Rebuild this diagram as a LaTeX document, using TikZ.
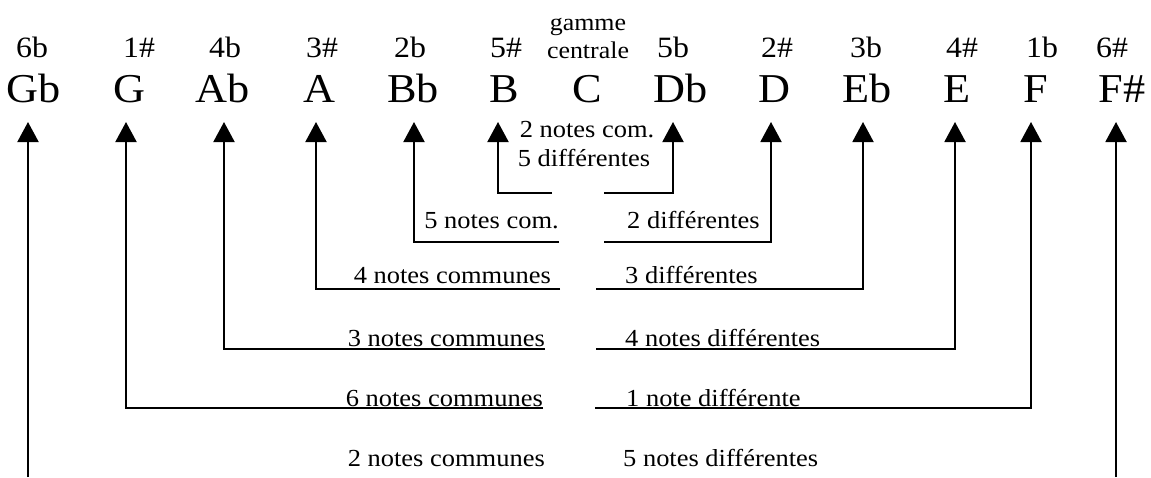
\documentclass[tikz,border=0pt]{standalone}
\usepackage{fontspec}
\setmainfont[FakeStretch=1.08]{Liberation Serif}
\usetikzlibrary{arrows.meta}
\begin{document}
\begin{tikzpicture}[x=1pt,y=-1pt,
  big/.style={font=\fontsize{41}{41}\selectfont, anchor=base, inner sep=0pt},
  key/.style={font=\fontsize{29.5}{29.5}\selectfont, anchor=base, inner sep=0pt},
  desc/.style={font=\fontsize{24.5}{24.5}\selectfont, inner sep=0pt},
  small/.style={font=\fontsize{24}{24}\selectfont, anchor=base, inner sep=0pt},
  arr/.style={line width=2pt, -{Triangle[width=21pt,length=20pt]}}]
\useasboundingbox (0,0) rectangle (1151,477);
% note names
\foreach \n/\t/\x in {Gb/Gb/34, G/G/129, Ab/Ab/223, A/A/319, Bb/Bb/413, B/B/504, C/C/587, Db/Db/681, D/D/774, Eb/Eb/867, E/E/957, F/F/1036, Fs/F\#/1122}
  \node[big] (n\n) at (\x,102) {\t};
% key signatures
\foreach \n/\t/\x in {Gb/6b/32, G/1\#/139, Ab/4b/225, A/3\#/322, Bb/2b/410, B/5\#/506, Db/5b/673, D/2\#/777, Eb/3b/866, E/4\#/962, F/1b/1042, Fs/6\#/1112}
  \node[key] (k\n) at (\x,57) {\t};
\node[small] (gam) at (588,30) {gamme};
\node[small] (cen) at (588,58) {centrale};
% arrow tips
\foreach \n/\x in {Gb/28, G/126, Ab/224, A/316, Bb/414, B/498, Db/673, D/771, Eb/863, E/955, F/1031, Fs/1116}
  \coordinate (t\n) at (\x,122);
% level 1
\node[desc, anchor=base] (c1a) at (587,137) {2 notes com.};
\node[desc, anchor=base] (c1b) at (584,166) {5 différentes};
\coordinate (l1) at (552,193); \coordinate (r1) at (604,193);
\draw[arr] (l1) -| (tB);
\draw[arr] (r1) -| (tDb);
% level 2
\node[desc, anchor=base east] (c2l) at (559,228) {5 notes com.};
\node[desc, anchor=base west] (c2r) at (627,228) {2 différentes};
\coordinate (l2) at (559,242); \coordinate (r2) at (604,242);
\draw[arr] (l2) -| (tBb);
\draw[arr] (r2) -| (tD);
% level 3
\node[desc, anchor=base east] (c3l) at (551,283) {4 notes communes};
\node[desc, anchor=base west] (c3r) at (625,283) {3 différentes};
\coordinate (l3) at (560,289); \coordinate (r3) at (596,289);
\draw[arr] (l3) -| (tA);
\draw[arr] (r3) -| (tEb);
% level 4
\node[desc, anchor=base east] (c4l) at (545,346) {3 notes communes};
\node[desc, anchor=base west] (c4r) at (625,346) {4 notes différentes};
\coordinate (l4) at (545,349); \coordinate (r4) at (596,349);
\draw[arr] (l4) -| (tAb);
\draw[arr] (r4) -| (tE);
% level 5
\node[desc, anchor=base east] (c5l) at (543,406) {6 notes communes};
\node[desc, anchor=base west] (c5r) at (626,406) {1 note différente};
\coordinate (l5) at (543,408); \coordinate (r5) at (595,408);
\draw[arr] (l5) -| (tG);
\draw[arr] (r5) -| (tF);
% level 6
\node[desc, anchor=base east] (c6l) at (545,466) {2 notes communes};
\node[desc, anchor=base west] (c6r) at (623,466) {5 notes différentes};
\coordinate (b6l) at (28,477); \coordinate (b6r) at (1116,477);
\draw[arr] (b6l) -- (tGb);
\draw[arr] (b6r) -- (tFs);
\end{tikzpicture}
\end{document}
